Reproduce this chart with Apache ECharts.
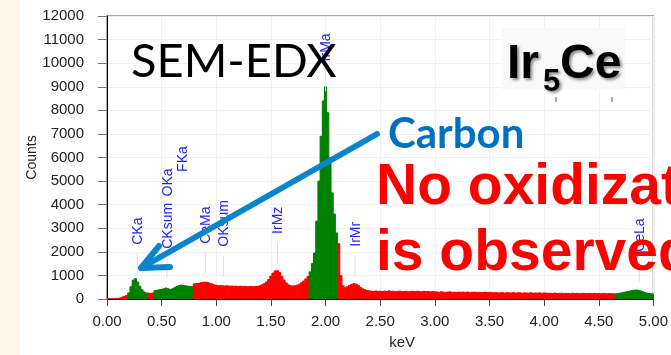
<!DOCTYPE html>
<html>
<head>
<meta charset="utf-8">
<script src="https://cdn.jsdelivr.net/npm/echarts@6/dist/echarts.min.js"></script>
<style>
html,body{margin:0;padding:0;background:#fff;}
#c{width:671px;height:355px;}
</style>
</head>
<body>
<div id="c"></div>
<script>
// ---- data ----
const binStart = 0;      // keV of first channel
const binWidth = 0.02;   // keV per channel
const counts = [
  0,0,0,0,10,20,40,80,110,150,
  260,520,800,860,720,540,390,300,260,250,
  240,255,360,375,390,400,430,465,430,405,
  430,480,530,565,590,575,555,545,525,535,
  640,650,665,690,705,720,700,670,640,600,
  580,
  560,570,560,550,560,545,550,540,545,530,540,525,530,520,525,530,520,530,540,
  560,600,650,720,830,970,1100,1190,1200,1120,
  960,800,680,600,560,550,560,585,625,690,
  760,850,960,1150,1500,1950,3300,5000,6900,8400,
  9000,7900,6000,4500,3600,2800,2350,1000,560,480,
  520,580,620,650,630,570,490,430,390,360,345,
  335,320,340,325,330,315,335,320,345,325,330,310,325,335,315,320,330,305,320,325,310,330,315,305,325,310,320,300,315,305,
  300,285,305,290,280,295,300,285,290,275,295,285,290,280,295,270,285,290,275,285,280,270,290,275,280,
  270,260,275,255,265,270,250,265,260,255,270,250,260,265,245,260,255,250,265,245,255,250,260,240,255,
  250,240,245,235,250,230,240,245,230,240,235,225,245,230,240,225,235,240,225,230,235,220,240,225,230,220,235,225,220,230,225,215,
  220,235,250,270,290,310,330,350,370,380,370,345,310,280,250,230,220,215
];
// keV ranges drawn in green (identified element peaks)
const greenRanges = [[0.19,0.37],[0.43,0.79],[1.85,2.11],[4.65,5.01]];
const xTicks = [0,0.5,1,1.5,2,2.5,3,3.5,4,4.5,5];
const yTicks = [0,1000,2000,3000,4000,5000,6000,7000,8000,9000,10000,11000,12000];
const peakNames = ['CKa','CKsum','OKa','FKa','CeMa','OKsum','IrMz','IrMa','IrMr','CeLa'];
const peakKeV   = [0.277,0.55,0.55,0.69,0.90,1.066,1.56,2.0,2.27,4.87];
// ---- layout of annotations ----
const peakLabelLevel = [2300,2130,4350,5390,2340,2215,2760,10075,2215,2000]; // counts at label foot
const peakHasLine    = [true,true,false,false,true,true,true,true,true,true];

const RED = '#ff0000', GREEN = '#008000';
const isGreen = x => greenRanges.some(r => x >= r[0] && x < r[1]);
const seriesData = counts.map((c, i) => [binStart + i * binWidth, c]);

const chart = echarts.init(document.getElementById('c'), null, {renderer: 'canvas'});
const FONT = 'Liberation Sans';
chart.setOption({
  animation: false,
  backgroundColor: '#ffffff',
  grid: {left: 107, right: 4, top: 16, bottom: 52, show: true, borderColor: '#8c8c8c', borderWidth: 1.5, backgroundColor: 'transparent'},
  xAxis: {
    type: 'value', min: xTicks[0], max: xTicks[xTicks.length-1], interval: 0.5,
    name: 'keV', nameLocation: 'middle', nameGap: 36, nameMoveOverlap: false,
    nameTextStyle: {fontFamily: FONT, fontSize: 15, color: '#222', padding: [0,0,0,44]},
    axisLine: {show: true, lineStyle: {color: '#000', width: 1}},
    axisTick: {show: true, length: 7, lineStyle: {color: '#444'}},
    axisLabel: {fontFamily: FONT, fontSize: 15, color: '#222', margin: 15, formatter: v => v.toFixed(2)},
    splitLine: {show: true, lineStyle: {color: '#f1f1f4', width: 1}}
  },
  yAxis: {
    type: 'value', min: yTicks[0], max: yTicks[yTicks.length-1], interval: 1000,
    name: 'Counts', nameLocation: 'middle', nameGap: 68, nameMoveOverlap: false,
    nameTextStyle: {fontFamily: FONT, fontSize: 14, color: '#222'},
    axisLine: {show: true, lineStyle: {color: '#000', width: 1}},
    axisTick: {show: true, length: 9, lineStyle: {color: '#777'}},
    axisLabel: {fontFamily: FONT, fontSize: 15, color: '#222', margin: 23, formatter: v => String(v)},
    splitLine: {show: true, lineStyle: {color: '#f1f1f4', width: 1}}
  },
  series: [{
    type: 'custom', data: seriesData, clip: true, z: 2,
    encode: {x: 0, y: 1},
    renderItem: (params, api) => {
      const x = api.value(0), y = api.value(1);
      const p0 = api.coord([x - binWidth / 2, 0]);
      const p1 = api.coord([x + binWidth / 2, y]);
      const col = isGreen(x) ? GREEN : RED;
      return {type: 'rect', shape: {x: p0[0], y: p1[1], width: p1[0] - p0[0], height: p0[1] - p1[1]},
        style: {fill: col, stroke: col, lineWidth: 1}};
    }
  }]
});

// ---- annotations ----
const g = [];
g.push({type: 'rect', shape: {x: 0, y: 0, width: 20, height: 355}, style: {fill: '#fff8ea'}, z: -5, silent: true});
peakNames.forEach((name, i) => {
  const p = chart.convertToPixel({gridIndex: 0}, [peakKeV[i], peakLabelLevel[i]]);
  if (peakHasLine[i]) {
    g.push({type: 'line', shape: {x1: p[0], y1: p[1] + 9, x2: p[0], y2: p[1] + 30},
      style: {stroke: '#dcdcf3', lineWidth: 1}, z: 5, silent: true});
  }
  g.push({type: 'text', x: p[0] + 1, y: p[1], rotation: Math.PI / 2, z: 6, silent: true,
    style: {text: name, fill: '#2222ff', font: '14px "Liberation Sans"', align: 'left', verticalAlign: 'middle'}});
});
g.push({type: 'text', x: 131, y: 62, z: 20, style: {text: 'SEM-EDX', fill: '#000', font: '47px Lato', align: 'left', verticalAlign: 'middle'}});
g.push({type: 'rect', shape: {x: 502, y: 28, width: 123, height: 62}, style: {fill: '#f9f9f9'}, z: 3, silent: true});
g.push({type: 'rect', shape: {x: 555, y: 97, width: 2, height: 5}, style: {fill: '#b0b0b0'}, z: 3, silent: true});
g.push({type: 'rect', shape: {x: 611, y: 97, width: 2, height: 5}, style: {fill: '#b0b0b0'}, z: 3, silent: true});
const shadow = {textShadowColor: 'rgba(0,0,0,0.45)', textShadowBlur: 3, textShadowOffsetX: 2, textShadowOffsetY: 2};
g.push({type: 'text', x: 507, y: 65, z: 21, style: Object.assign({text: 'Ir', fill: '#000', font: 'bold 48px "Liberation Sans"', align: 'left', verticalAlign: 'middle'}, shadow)});
g.push({type: 'text', x: 543, y: 82, z: 21, style: Object.assign({text: '5', fill: '#000', font: 'bold 31px "Liberation Sans"', align: 'left', verticalAlign: 'middle'}, shadow)});
g.push({type: 'text', x: 560, y: 65, z: 21, style: Object.assign({text: 'Ce', fill: '#000', font: 'bold 48px "Liberation Sans"', align: 'left', verticalAlign: 'middle'}, shadow)});
g.push({type: 'text', x: 388, y: 134, z: 21, style: {text: 'Carbon', fill: '#0070c0', font: 'bold 42px Lato', align: 'left', verticalAlign: 'middle'}});
g.push({type: 'text', x: 376, y: 188, z: 21, style: {text: 'No oxidization', fill: '#ff0000', font: 'bold 57px "Liberation Sans"', align: 'left', verticalAlign: 'middle'}});
g.push({type: 'text', x: 376, y: 254, z: 21, style: {text: 'is observed', fill: '#ff0000', font: 'bold 57px "Liberation Sans"', align: 'left', verticalAlign: 'middle'}});
g.push({type: 'polyline', z: 22, silent: true, shape: {points: [[377, 134], [141, 268]]},
  style: {stroke: '#0a84cc', lineWidth: 6, lineCap: 'round', fill: null}});
g.push({type: 'polyline', z: 22, silent: true, shape: {points: [[159, 246], [141, 268], [170, 267]]},
  style: {stroke: '#0a84cc', lineWidth: 6, lineCap: 'round', lineJoin: 'round', fill: null}});
chart.setOption({graphic: g});
</script>
</body>
</html>
